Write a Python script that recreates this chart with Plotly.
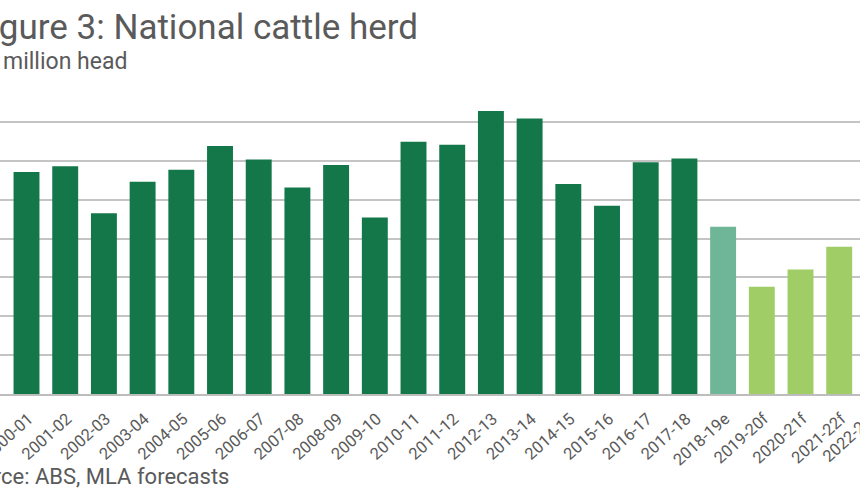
import plotly.graph_objects as go

categories = ["2000-01", "2001-02", "2002-03", "2003-04", "2004-05", "2005-06",
              "2006-07", "2007-08", "2008-09", "2009-10", "2010-11", "2011-12",
              "2012-13", "2013-14", "2014-15", "2015-16", "2016-17", "2017-18",
              "2018-19e", "2019-20f", "2020-21f", "2021-22f", "2022-23f"]
herd_million = [27.71, 27.86, 26.65, 27.46, 27.77, 28.38, 28.03, 27.31, 27.89,
                26.54, 28.49, 28.41, 29.28, 29.09, 27.40, 26.84, 27.96, 28.06,
                26.30, 24.76, 25.20, 25.79, None]
status = ["actual"] * 18 + ["estimate"] + ["forecast"] * 5
y_ticks = [22, 23, 24, 25, 26, 27, 28, 29, 30]

colour_map = {"actual": "#14774a", "estimate": "#6fb597", "forecast": "#a1cd66"}
colours = [colour_map[s] for s in status]

FONT = "Roboto"
GREY = "#5a5a5a"

W, H = 860, 500
top, bottom = 83, 394
plot_h = bottom - top
x_range = [-0.685, 21.537]
TICK_ANGLE = -42
TICK_SIZE = 16.5
STANDOFF = 7
SHIFT = 2

def py(y):
    return (bottom - y) / plot_h

fig = go.Figure(go.Bar(
    x=categories, y=herd_million, marker_color=colours, marker_line_width=0,
))

fig.update_layout(
    width=W, height=H,
    margin=dict(l=0, r=0, t=top, b=H - bottom, autoexpand=False),
    paper_bgcolor="white", plot_bgcolor="white",
    bargap=0.33, showlegend=False,
    font=dict(family=FONT, color=GREY),
)
fig.update_xaxes(
    type="category", range=x_range, automargin=False,
    tickangle=TICK_ANGLE, tickfont=dict(size=TICK_SIZE, color=GREY, family=FONT),
    showline=True, linecolor="#bdbdbd", linewidth=1.5,
    showgrid=False, ticks="", ticklabelstandoff=STANDOFF, ticklabelshift=SHIFT,
)
fig.update_yaxes(
    range=[22, 30], tickvals=y_ticks, showticklabels=False, automargin=False,
    showgrid=True, gridcolor="#c4c4c4", gridwidth=1.5, zeroline=False,
)

fig.add_annotation(text="Figure 3: National cattle herd", xref="paper", yref="paper",
                   x=420 / W, y=py(27), xanchor="right", yanchor="middle",
                   showarrow=False, font=dict(size=35, color=GREY, family=FONT))
fig.add_annotation(text="million head", xref="paper", yref="paper",
                   x=1 / W, y=py(61), xanchor="left", yanchor="middle",
                   showarrow=False, font=dict(size=23, color=GREY, family=FONT))
fig.add_annotation(text="Source: ABS, MLA forecasts", xref="paper", yref="paper",
                   x=231 / W, y=py(476), xanchor="right", yanchor="middle",
                   showarrow=False, font=dict(size=22, color=GREY, family=FONT))
# label of the last category, whose tick lies just beyond the visible area
last_idx = len(categories) - 1
last_paper_x = (last_idx - x_range[0]) / (x_range[1] - x_range[0])
fig.add_annotation(text=categories[-1], xref="paper", yref="paper",
                   x=last_paper_x, y=0, xanchor="right", yanchor="top",
                   xshift=SHIFT + 4, yshift=-(STANDOFF + 4), textangle=TICK_ANGLE,
                   showarrow=False, font=dict(size=TICK_SIZE, color=GREY, family=FONT))

fig.write_html("out.html")
